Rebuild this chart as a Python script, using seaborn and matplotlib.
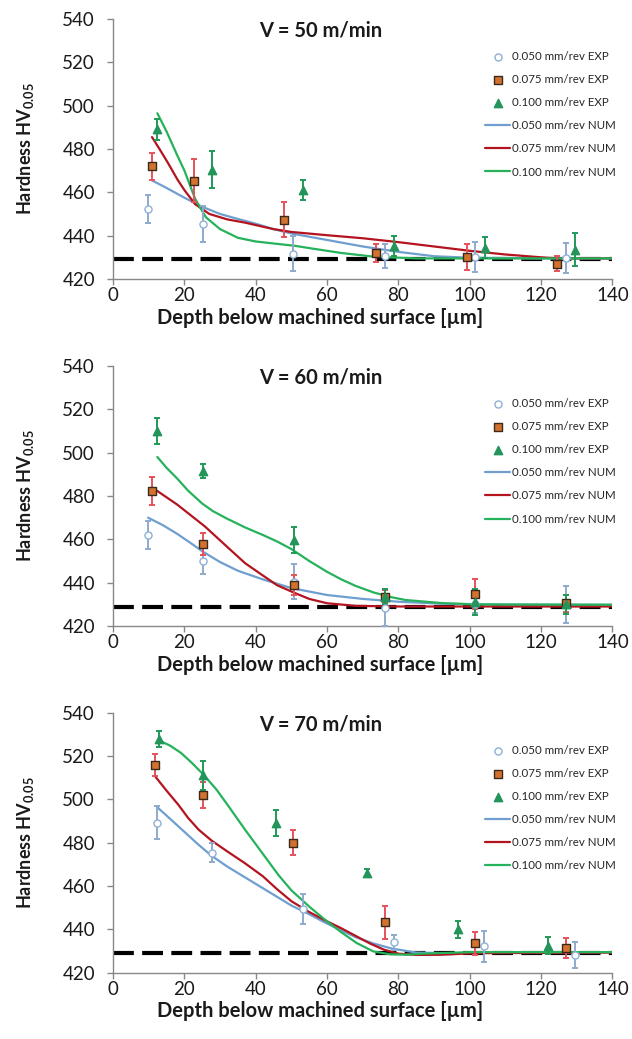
import matplotlib
matplotlib.use("Agg")
import matplotlib.pyplot as plt
import seaborn as sns

# --- data ---
SPEEDS = [50, 60, 70]
FEED_LABELS = ["0.050", "0.075", "0.100"]
BASELINE = 429

# V = 50 m/min, experimental
EXP50_X050 = [9.8, 25.1, 50.5, 76.3, 101.6, 127.0]
EXP50_Y050 = [452.3, 445.5, 431.7, 430.6, 430.0, 429.7]
EXP50_E050 = [6.5, 8.3, 8.0, 5.7, 7.0, 7.0]
EXP50_X075 = [10.9, 22.6, 48.0, 73.6, 99.1, 124.5]
EXP50_Y075 = [472.0, 465.4, 447.4, 432.0, 430.0, 427.0]
EXP50_E075 = [6.3, 10.0, 8.0, 4.0, 6.0, 3.5]
EXP50_X100 = [12.4, 27.8, 53.3, 78.8, 104.2, 129.5]
EXP50_Y100 = [489.0, 470.5, 461.0, 435.2, 434.5, 433.5]
EXP50_E100 = [5.0, 8.5, 4.5, 4.5, 5.0, 7.5]
# V = 50 m/min, numerical
NUM50_X050 = [10.9, 15, 20, 25, 30, 35, 40, 45, 50, 55, 60, 70, 80, 90, 100, 120, 140]
NUM50_Y050 = [465.5, 462, 457.5, 453.3, 450, 447.7, 445.5, 443, 441, 439.5, 438, 435, 432.5, 430.5, 429.8, 429.5, 429.5]
NUM50_X075 = [10.9, 13, 15.4, 18, 20, 23, 27, 32, 37, 45, 50, 60, 70, 80, 90, 100, 110, 120, 125, 140]
NUM50_Y075 = [485.5, 480, 473.5, 466, 461, 454.5, 450, 447.5, 446, 443, 441.7, 440.2, 438.8, 437, 435, 433, 431.3, 430, 429.5, 429.5]
NUM50_X100 = [12.4, 15, 18, 20, 23, 26, 30, 35, 40, 46, 51, 56, 64, 73, 85, 140]
NUM50_Y100 = [496.5, 488, 477, 470, 457, 448.5, 443, 439, 437.3, 436.2, 435.3, 434, 432, 430.3, 429.5, 429.5]

# V = 60 m/min, experimental
EXP60_X050 = [9.8, 25.1, 50.6, 76.2, 101.6, 127.0]
EXP60_Y050 = [462.0, 449.8, 440.5, 428.3, 430.0, 430.0]
EXP60_E050 = [6.5, 6.0, 8.0, 8.5, 4.0, 8.5]
EXP60_X075 = [10.9, 25.1, 50.6, 76.2, 101.6, 127.0]
EXP60_Y075 = [482.3, 457.8, 439.0, 433.5, 434.9, 430.5]
EXP60_E075 = [6.6, 5.0, 4.5, 3.0, 7.0, 4.0]
EXP60_X100 = [12.4, 25.3, 50.6, 76.2, 101.6, 127.0]
EXP60_Y100 = [510.0, 491.5, 459.8, 433.5, 431.0, 430.0]
EXP60_E100 = [6.0, 3.4, 6.0, 3.5, 6.0, 4.5]
# V = 60 m/min, numerical
NUM60_X050 = [9.8, 14, 18, 22, 25, 30, 35, 42, 50, 60, 70, 80, 92, 110, 140]
NUM60_Y050 = [470, 466.5, 462.5, 458, 454.5, 449.5, 445.5, 441.5, 437.5, 434.3, 432.5, 431.2, 430.3, 429.8, 429.8]
NUM60_X075 = [10.9, 18, 25.7, 32, 37, 42, 46, 51, 55, 60, 68, 80, 140]
NUM60_Y075 = [484, 476, 466, 456.5, 449, 443.3, 438.8, 435.2, 432.5, 430.5, 429.3, 429, 429]
NUM60_X100 = [12.4, 15, 18, 21, 25, 28, 32, 37, 42, 46, 50, 55, 60, 64, 68, 73, 78, 82, 92, 101, 140]
NUM60_Y100 = [498, 493, 488, 482.5, 476.5, 473, 469.5, 465.5, 462, 459, 455.5, 450, 445, 441.5, 438.5, 435.5, 433.3, 432, 430.6, 430, 429.8]

# V = 70 m/min, experimental
EXP70_X050 = [12.3, 27.7, 53.3, 78.7, 104.0, 129.5]
EXP70_Y050 = [489.2, 475.4, 449.3, 434.0, 432.1, 428.0]
EXP70_E050 = [7.6, 4.5, 7.0, 3.6, 7.0, 6.0]
EXP70_X075 = [11.8, 25.1, 50.5, 76.2, 101.6, 127.0]
EXP70_Y075 = [516.0, 502.2, 480.0, 443.2, 433.7, 431.5]
EXP70_E075 = [5.0, 6.0, 5.7, 7.6, 5.3, 4.5]
EXP70_X100 = [12.9, 25.3, 45.6, 71.2, 96.7, 122.0]
EXP70_Y100 = [527.7, 511.1, 488.9, 466.2, 440.1, 432.5]
EXP70_E100 = [3.7, 6.7, 6.0, 1.5, 4.0, 4.0]
# V = 70 m/min, numerical
NUM70_X050 = [12.3, 15, 18, 21, 24, 27.6, 32, 37, 42, 46, 50, 55, 59, 64, 68, 73, 78, 85, 95, 110, 140]
NUM70_Y050 = [496.5, 492.5, 488, 483.5, 479, 474, 469, 464, 459, 455, 451, 447, 443.5, 439.5, 436.4, 433.5, 431.2, 429.3, 429, 429.5, 429.5]
NUM70_X075 = [11.8, 15, 18.3, 21, 24, 27.6, 32, 37, 42, 46, 50, 55, 59, 64, 68, 72, 76, 80, 85, 92, 101, 140]
NUM70_Y075 = [510.6, 504, 497.5, 491.5, 486, 481, 476, 470.5, 464.5, 458.5, 453, 448, 444.5, 440.5, 437, 433.5, 430.6, 428.8, 428.2, 428.3, 429, 429.3]
NUM70_X100 = [12.9, 16, 19, 22, 25.3, 29, 32.3, 37, 41.7, 46.4, 50, 55, 59, 63.7, 68.3, 73, 77.7, 82, 87, 100, 140]
NUM70_Y100 = [527.2, 524.8, 521.5, 517, 511.5, 504.5, 497, 486, 475.5, 465, 458, 450.5, 445, 439, 433.7, 429.8, 428.5, 428.3, 428.8, 429.5, 429.5]

PANELS = {
    50: ([(EXP50_X050, EXP50_Y050, EXP50_E050), (EXP50_X075, EXP50_Y075, EXP50_E075), (EXP50_X100, EXP50_Y100, EXP50_E100)],
         [(NUM50_X050, NUM50_Y050), (NUM50_X075, NUM50_Y075), (NUM50_X100, NUM50_Y100)]),
    60: ([(EXP60_X050, EXP60_Y050, EXP60_E050), (EXP60_X075, EXP60_Y075, EXP60_E075), (EXP60_X100, EXP60_Y100, EXP60_E100)],
         [(NUM60_X050, NUM60_Y050), (NUM60_X075, NUM60_Y075), (NUM60_X100, NUM60_Y100)]),
    70: ([(EXP70_X050, EXP70_Y050, EXP70_E050), (EXP70_X075, EXP70_Y075, EXP70_E075), (EXP70_X100, EXP70_Y100, EXP70_E100)],
         [(NUM70_X050, NUM70_Y050), (NUM70_X075, NUM70_Y075), (NUM70_X100, NUM70_Y100)]),
}

# --- styles ---
MARKERS = ["o", "s", "^"]
MARKER_SIZE = [26, 30, 36]
FACE = ["white", "#d2722e", "#23955a"]
EDGE = ["#8fb0d4", "#3a2a1c", "#23955a"]
ERR_COLORS = ["#8eaacb", "#e5525c", "#1f9a58"]
LINE_COLORS = ["#6f9fcf", "#b3141f", "#26b25a"]

sns.set_theme(style="white")
plt.rcParams['font.family'] = ['Lato', 'DejaVu Sans']
plt.rcParams['mathtext.fontset'] = 'custom'
plt.rcParams['mathtext.rm'] = 'Lato'
plt.rcParams['mathtext.bf'] = 'Lato:bold'

fig = plt.figure(figsize=(6.32, 10.39), dpi=100)
bottoms = [0.7315, 0.3975, 0.0638]

for speed, bottom in zip(SPEEDS, bottoms):
    ax = fig.add_axes([0.179, bottom, 0.79, 0.2502])
    exp_sets, num_sets = PANELS[speed]

    ax.axhline(BASELINE, color="black", lw=3, dashes=(5, 2), zorder=1)

    for i, (xs, ys) in enumerate(num_sets):
        sns.lineplot(x=xs, y=ys, sort=False, estimator=None, color=LINE_COLORS[i],
                     lw=1.6, ax=ax, zorder=2, label=f"{FEED_LABELS[i]} mm/rev NUM")

    for i, (xs, ys, es) in enumerate(exp_sets):
        ax.errorbar(xs, ys, yerr=es, fmt="none", ecolor=ERR_COLORS[i], elinewidth=1.4,
                    capsize=2.2, capthick=1.4, zorder=3)
        sns.scatterplot(x=xs, y=ys, marker=MARKERS[i], s=MARKER_SIZE[i], color=FACE[i],
                        edgecolor=EDGE[i], linewidth=1.0, ax=ax, zorder=4,
                        label=f"{FEED_LABELS[i]} mm/rev EXP")

    ax.set_xlim(0, 140)
    ax.set_ylim(420, 540)
    ax.set_xticks(range(0, 141, 20))
    ax.set_yticks(range(420, 541, 20))
    ax.tick_params(axis="both", labelsize=13.5, colors="#888888", labelcolor="#1a1a1a",
                   direction="out", length=4, width=1, left=True, bottom=True)
    ax.tick_params(axis="y", pad=9)
    ax.tick_params(axis="x", pad=2)
    for side in ["top", "right"]:
        ax.spines[side].set_visible(False)
    for side in ["left", "bottom"]:
        ax.spines[side].set_color("#888888")
        ax.spines[side].set_linewidth(1)

    ax.set_ylabel(r"Hardness HV$_{\mathbf{0.05}}$", fontsize=13, fontweight="bold", color="#1a1a1a")
    ax.yaxis.set_label_coords(-0.155, 0.5)
    ax.set_xlabel("Depth below machined surface [µm]", fontsize=14.5, fontweight="bold", color="#1a1a1a")
    ax.xaxis.set_label_coords(0.415, -0.11)

    ax.text(0.415, 0.955, f"V = {speed} m/min", transform=ax.transAxes, ha="center", va="center",
            fontsize=14.5, fontweight="bold", color="#1a1a1a")

    handles, labels = ax.get_legend_handles_labels()
    order = [labels.index(f"{f} mm/rev EXP") for f in FEED_LABELS] + \
            [labels.index(f"{f} mm/rev NUM") for f in FEED_LABELS]
    ax.legend([handles[k] for k in order], [labels[k] for k in order], loc="upper left",
              bbox_to_anchor=(0.745, 0.877), frameon=False, fontsize=8.3, handlelength=2.2,
              handletextpad=0.15, labelspacing=1.05, borderpad=0, borderaxespad=0,
              labelcolor="#262626")

fig.savefig("out.png", dpi=100)
